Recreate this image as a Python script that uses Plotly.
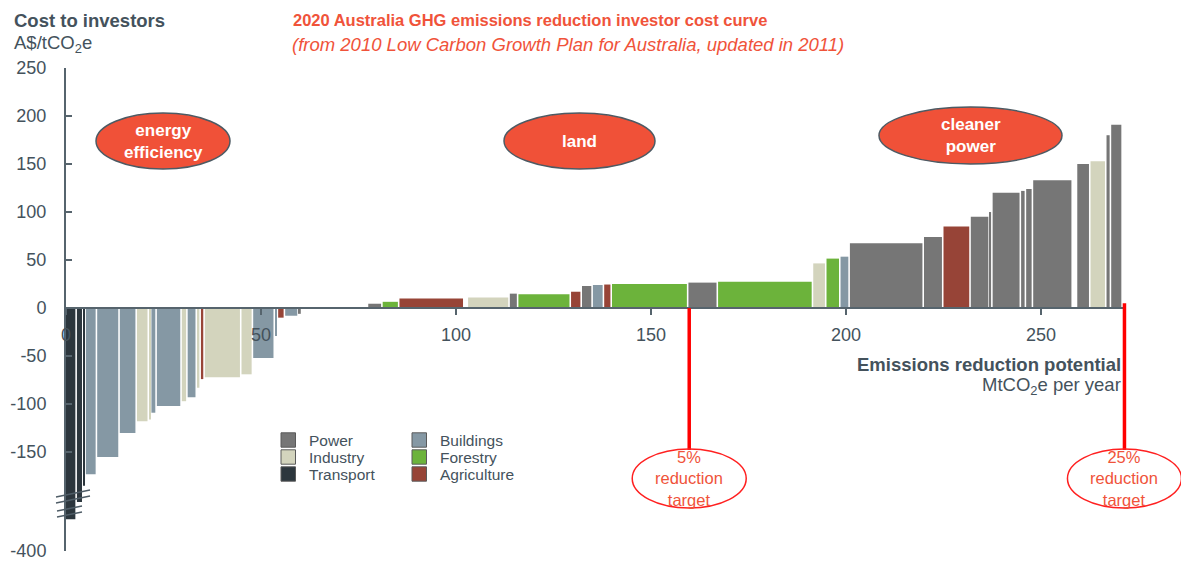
import plotly.graph_objects as go

# ---------------- data ----------------
SECTORS = [
    "Transport", "Transport", "Transport", "Buildings", "Buildings", "Buildings",
    "Industry", "Industry", "Buildings", "Buildings", "Industry", "Buildings",
    "Industry", "Agriculture", "Industry", "Industry", "Buildings", "Buildings",
    "Agriculture", "Buildings", "Power", None,
    "Power", "Forestry", "Agriculture", None, "Industry", "Power", "Forestry",
    "Agriculture", "Power", "Buildings", "Agriculture", "Forestry", "Power",
    "Forestry", "Industry", "Forestry", "Buildings", "Power", "Power",
    "Agriculture", "Power", "Power", "Power", "Power", "Power", "Power", None,
    "Power", "Industry", "Power", "Power",
]
# abatement potential, MtCO2e per year
POTENTIAL = [
    2.8, 1.7, 0.6, 2.9, 5.8, 4.4,
    3.1, 0.6, 1.4, 6.4, 1.5, 2.4,
    1.0, 1.0, 9.4, 3.0, 5.6, 0.8,
    1.8, 3.5, 0.9, 16.9,
    3.7, 4.3, 16.7, 0.9, 10.7, 2.2, 13.5,
    2.8, 2.8, 2.9, 2.0, 19.6, 7.6,
    24.4, 3.4, 3.6, 2.4, 19.0, 5.0,
    7.0, 4.9, 0.7, 7.3, 1.3, 1.8, 10.2, 1.1,
    3.4, 4.1, 1.2, 3.0,
]
# cost to investors, A$/tCO2e
COST = [
    -290, -230, -185, -173, -155, -130,
    -118, -116, -109, -102, -97, -93,
    -83, -74, -72, -69, -52, -29,
    -10, -8, -6, 0,
    4.5, 6.5, 10, 0, 11, 15, 14.5,
    17, 23, 24, 24.5, 25, 26.5,
    27.5, 46.5, 51.5, 53.5, 67.5, 74,
    85, 95, 100, 120, 122, 124, 133, 0,
    150, 153, 180, 191,
]
LEGEND1 = ["Power", "Industry", "Transport"]
LEGEND2 = ["Buildings", "Forestry", "Agriculture"]
COLORS = {
    "Power": "#767676", "Industry": "#d3d4bd", "Transport": "#2c363d",
    "Buildings": "#8598a4", "Forestry": "#6cb33b", "Agriculture": "#974437",
}
Y_TICKS = [250, 200, 150, 100, 50, 0, -50, -100, -150, -400]
X_TICKS = [0, 50, 100, 150, 200, 250]
TARGETS = [("5%", 159.8), ("25%", 271.4)]
GROUPS = ["energy<br>efficiency", "land", "cleaner<br>power"]

# ---------------- layout helpers ----------------
W, H = 1181, 561
ML, MR, MT, MB = 66, 57, 68, 10
XSCALE = 3.9                       # px per MtCO2e
XMAX = (W - ML - MR) / XSCALE
BREAK, COMP = -190, 0.3            # broken y axis below -190


def disp(v):
    return v if v >= BREAK else BREAK + (v - BREAK) * COMP


YMIN, YMAX = disp(-400) - 0.01, 250


def px(x):
    return (x - ML) / (W - ML - MR)


def py(y):
    return (H - MB - y) / (H - MT - MB)


def xp(v):  # data x -> paper
    return v / XMAX


def yp(v):  # data y -> paper
    return (disp(v) - YMIN) / (YMAX - YMIN)


AXIS = "#56646d"
TXT = "#44525c"
RED = "#f0533a"
FONT = "Liberation Sans, Arial, sans-serif"

fig = go.Figure()

# bars, one trace per sector
starts = []
s = 0.0
for w in POTENTIAL:
    starts.append(s)
    s += w
GAP = 0.4
for sec in COLORS:
    xs, ws, ys = [], [], []
    for sc, st, w, c in zip(SECTORS, starts, POTENTIAL, COST):
        if sc != sec:
            continue
        dw = max(w - GAP, 0.3)
        xs.append(st + dw / 2)
        ws.append(dw)
        ys.append(disp(c))
    fig.add_trace(go.Bar(x=xs, y=ys, width=ws, marker=dict(color=COLORS[sec], line=dict(width=0)),
                         showlegend=False, name=sec, hoverinfo="skip"))

shapes = []
annotations = []


def ann(text, x, y, xanchor="center", yanchor="middle", size=18.5, color=TXT, align="center"):
    annotations.append(dict(text=text, xref="paper", yref="paper", x=px(x), y=py(y), xanchor=xanchor,
                            yanchor=yanchor, showarrow=False, align=align,
                            font=dict(family=FONT, size=size, color=color)))


# legend (two columns of three)
for col, (names, lx) in enumerate([(LEGEND1, 281), (LEGEND2, 412)]):
    for row, name in enumerate(names):
        cy = 440 + row * 17
        shapes.append(dict(type="rect", xref="paper", yref="paper", x0=px(lx), x1=px(lx + 14.5),
                           y0=py(cy + 7.2), y1=py(cy - 7.2), fillcolor=COLORS[name],
                           line=dict(color="#5a5a5a", width=1), layer="above"))
        ann(name, lx + 26, cy, xanchor="left", size=15.5, align="left")

# group ellipses
ELL = [(96, 113, 230, 169, 163, 141), (504, 113, 655, 169, 579.5, 141), (879, 107, 1062, 164, 970.5, 135)]
for label, (x0, y0, x1, y1, cx, cy) in zip(GROUPS, ELL):
    shapes.append(dict(type="circle", xref="paper", yref="paper", x0=px(x0), x1=px(x1), y0=py(y1), y1=py(y0),
                       fillcolor="#f05138", line=dict(color="#4d5a63", width=1.5), layer="above"))
    ann(f"<b>{label}</b>", cx, cy, size=17, color="white")

# targets
for lab, xv in TARGETS:
    top = 0 if lab == "5%" else 5
    shapes.append(dict(type="line", xref="paper", yref="paper", x0=xp(xv), x1=xp(xv), y0=yp(top), y1=py(450),
                       line=dict(color="#ff0000", width=3.5), layer="above"))
    cxp = ML + xv * XSCALE
    shapes.append(dict(type="circle", xref="paper", yref="paper", x0=px(cxp - 57), x1=px(cxp + 57),
                       y0=py(508), y1=py(449), line=dict(color="#ff2020", width=1.5), layer="above"))
    ann(f"{lab}<br>reduction<br>target", cxp, 479, size=16.5, color=RED)

# axis break marks
for (x0, y0, x1, y1) in [(56, 497, 90, 490), (56, 503, 90, 496), (57, 511, 82, 506), (57, 517, 82, 512)]:
    shapes.append(dict(type="line", xref="paper", yref="paper", x0=px(x0), x1=px(x1), y0=py(y0), y1=py(y1),
                       line=dict(color="#4f5d67", width=1.5), layer="above"))

# titles
ann("<b>Cost to investors</b>", 12, 20, xanchor="left", align="left")
ann("A$/tCO<sub>2</sub>e", 12, 44, xanchor="left", align="left")
ann("<b>2020 Australia GHG emissions reduction investor cost curve</b>", 291, 20, xanchor="left",
    size=16.5, color=RED, align="left")
ann("<i>(from 2010 Low Carbon Growth Plan for Australia, updated in 2011)</i>", 290, 45, xanchor="left",
    size=18.5, color=RED, align="left")
ann("<b>Emissions reduction potential</b>", 1123, 364, xanchor="right", align="right")
ann("MtCO<sub>2</sub>e per year", 1123, 386, xanchor="right", align="right")

fig.update_layout(
    width=W, height=H, margin=dict(l=ML, r=MR, t=MT, b=MB, autoexpand=False),
    paper_bgcolor="white", plot_bgcolor="white", barmode="overlay",
    font=dict(family=FONT, color=TXT), showlegend=False,
    xaxis=dict(range=[0, XMAX], anchor="free", position=yp(0), showgrid=False, zeroline=False,
               showline=True, linecolor=AXIS, linewidth=2, ticks="outside", ticklen=6, tickwidth=1.5,
               tickcolor=AXIS, tickvals=X_TICKS, ticktext=[str(t) for t in X_TICKS],
               tickfont=dict(family=FONT, size=18, color=TXT), ticklabelstandoff=4,
               ticklabeloverflow="allow"),
    yaxis=dict(range=[YMIN, YMAX], showgrid=False, zeroline=False, showline=True, linecolor=AXIS, linewidth=2,
               ticks="inside", ticklen=6, tickwidth=1.5, tickcolor=AXIS,
               tickvals=[disp(t) for t in Y_TICKS], ticktext=[str(t) for t in Y_TICKS],
               tickfont=dict(family=FONT, size=18, color=TXT), ticklabelstandoff=14,
               ticklabeloverflow="allow"),
    shapes=shapes, annotations=annotations,
)

fig.write_html("out.html", config={"displayModeBar": False},
               post_script="document.body.style.margin='0px';")
